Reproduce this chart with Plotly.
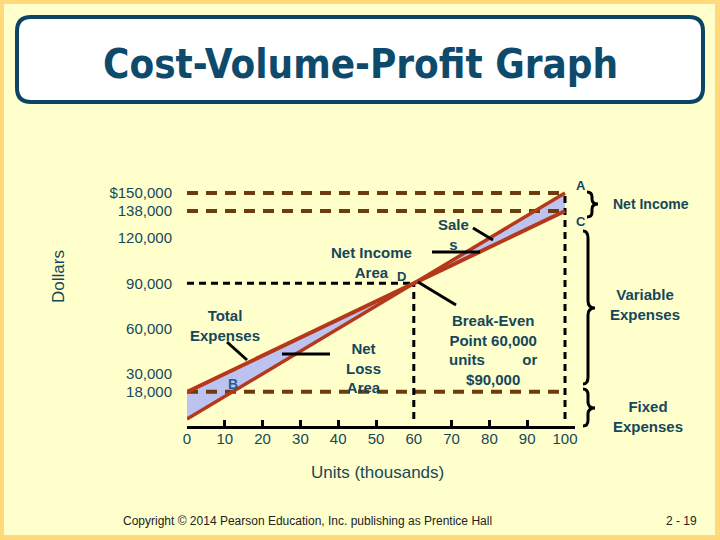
import plotly.graph_objects as go

# ---------------- data ----------------
units_k = [0, 60, 100]                      # thousands of units
sales = [0, 90000, 150000]                  # dollars
total_expenses = [18000, 90000, 138000]     # dollars
fixed_expenses = 18000
break_even_units = 60
break_even_dollars = 90000
max_units = 100
sales_at_max = 150000
expenses_at_max = 138000

x_tick_vals = [0, 10, 20, 30, 40, 50, 60, 70, 80, 90, 100]
x_tick_text = ["0", "10", "20", "30", "40", "50", "60", "70", "80", "90", "100"]
x_minor_ticks = [10, 20, 30, 40, 50, 70, 80, 90]
y_tick_vals = [18000, 30000, 60000, 90000, 120000, 138000, 150000]
y_tick_text = ["18,000", "30,000", "60,000", "90,000", "120,000", "138,000", "$150,000"]

# ---------------- layout geometry ----------------
W, H = 720, 540
PL, PR, PT, PB = 187, 575, 170, 426
PW, PH = PR - PL, PB - PT
Y0_PX, KPX = 419, 1.507          # pixel of $0 and px per $1000
y_range = [(Y0_PX - PB) / KPX * 1000, (Y0_PX - PT) / KPX * 1000]
x_range = [0, (PR - PL) / 3.78]


def px(v):
    return (v - PL) / PW


def py(v):
    return (PB - v) / PH


TEXT = "#15475B"
BROWN = "#6E3B0C"
RED = "#B5381A"
FILL = "#BCC3F0"
FONT = "Liberation Sans, Arial, sans-serif"

fig = go.Figure()

# shaded areas between lines
fig.add_trace(go.Scatter(x=units_k, y=total_expenses, mode="lines",
                         line=dict(width=0, color=FILL), hoverinfo="skip", showlegend=False))
fig.add_trace(go.Scatter(x=units_k, y=sales, mode="lines", fill="tonexty", fillcolor=FILL,
                         line=dict(width=0, color=FILL), hoverinfo="skip", showlegend=False))

# dashed reference lines
for yv in [sales_at_max, expenses_at_max, fixed_expenses]:
    fig.add_trace(go.Scatter(x=[0, max_units], y=[yv, yv], mode="lines",
                             line=dict(color=BROWN, width=4, dash="11px,8px"),
                             showlegend=False, hoverinfo="skip", cliponaxis=False))
fig.add_trace(go.Scatter(x=[0, break_even_units], y=[break_even_dollars, break_even_dollars],
                         mode="lines", line=dict(color="black", width=3, dash="7px,5px"),
                         showlegend=False, hoverinfo="skip", cliponaxis=False))
fig.add_trace(go.Scatter(x=[break_even_units, break_even_units], y=[0, break_even_dollars],
                         mode="lines", line=dict(color="black", width=3, dash="7px,5px"),
                         showlegend=False, hoverinfo="skip", cliponaxis=False))
fig.add_trace(go.Scatter(x=[max_units, max_units], y=[0, sales_at_max],
                         mode="lines", line=dict(color="black", width=3, dash="7px,5px"),
                         showlegend=False, hoverinfo="skip", cliponaxis=False))

# sales and total expense lines
fig.add_trace(go.Scatter(x=units_k, y=total_expenses, mode="lines",
                         line=dict(color=RED, width=4), showlegend=False, cliponaxis=False))
fig.add_trace(go.Scatter(x=units_k, y=sales, mode="lines",
                         line=dict(color=RED, width=3.5), showlegend=False, cliponaxis=False))

shapes = []
# slide background
shapes.append(dict(type="rect", xref="paper", yref="paper", layer="below",
                   x0=px(4), x1=px(715), y0=py(4), y1=py(535),
                   fillcolor="#FFFFCC", line=dict(width=0)))
# title box (rounded)
l, t, r, b, rad = 17, 17, 703, 102, 14
path = (f"M {px(l+rad)},{py(t)} L {px(r-rad)},{py(t)} Q {px(r)},{py(t)} {px(r)},{py(t+rad)} "
        f"L {px(r)},{py(b-rad)} Q {px(r)},{py(b)} {px(r-rad)},{py(b)} "
        f"L {px(l+rad)},{py(b)} Q {px(l)},{py(b)} {px(l)},{py(b-rad)} "
        f"L {px(l)},{py(t+rad)} Q {px(l)},{py(t)} {px(l+rad)},{py(t)} Z")
shapes.append(dict(type="path", xref="paper", yref="paper", path=path,
                   fillcolor="white", line=dict(color="#0B4566", width=4)))


def brace(x0, x1, x2, yt, ym, yb, r=6):
    return (f"M {px(x0)},{py(yt)} Q {px(x1)},{py(yt)} {px(x1)},{py(yt+r)} "
            f"L {px(x1)},{py(ym-r)} Q {px(x1)},{py(ym)} {px(x2)},{py(ym)} "
            f"Q {px(x1)},{py(ym)} {px(x1)},{py(ym+r)} "
            f"L {px(x1)},{py(yb-r)} Q {px(x1)},{py(yb)} {px(x0)},{py(yb)}")


for args in [(587, 592, 598, 192, 204, 217, 5), (583, 588, 595, 231, 308, 384, 7),
             (583, 588, 595, 389, 408, 426, 6)]:
    shapes.append(dict(type="path", xref="paper", yref="paper", path=brace(*args),
                       line=dict(color="black", width=3)))

# pointer lines
for (xa, ya, xb, yb_) in [(227, 342, 247, 360), (282, 354, 330, 354), (473, 228, 493, 240),
                          (432, 252, 480, 252), (418, 282, 456, 305)]:
    shapes.append(dict(type="line", xref="paper", yref="paper",
                       x0=px(xa), y0=py(ya), x1=px(xb), y1=py(yb_),
                       line=dict(color="black", width=3)))

annotations = []


def note(text, x, y, size=15, color=TEXT, bold=True, family=FONT, **kw):
    annotations.append(dict(text=f"<b>{text}</b>" if bold else text, x=px(x), y=py(y),
                            xref="paper", yref="paper", showarrow=False,
                            xanchor="center", yanchor="middle",
                            font=dict(size=size, color=color, family=family), **kw))


note("Cost-Volume-Profit Graph", 360, 64, size=40, color="#0E4A6C",
     family="DejaVu Sans Condensed, DejaVu Sans, sans-serif")
note("Total<br>Expenses", 225, 325)
note("B", 233, 384, size=14, color="#1F5C99")
note("Net<br>Loss<br>Area", 363, 368)
note("Net Income<br>Area", 371, 262)
note("D", 401, 276, size=13)
note("Sale<br>s", 453, 234)
note("A", 581, 185, size=13)
note("C", 581, 221, size=13)
note("Net Income", 651, 204, size=14)
note("Variable<br>Expenses", 645, 304.5)
note("Break-Even<br>Point 60,000<br>units" + "&nbsp;" * 9 + "or<br>$90,000", 493, 349.5)
note("Fixed<br>Expenses", 648, 416.5)
note("Units (thousands)", 377, 472, size=17, bold=False)
note("Dollars", 58, 277, size=17, bold=False, textangle=-90)
note("Copyright © 2014 Pearson Education, Inc. publishing as Prentice Hall", 307, 521,
     size=12, color="#222222", bold=False)
note("2 - 19", 681, 521, size=12, color="#222222", bold=False)

fig.update_layout(
    width=W, height=H,
    margin=dict(l=PL, r=W - PR, t=PT, b=H - PB, pad=0),
    paper_bgcolor="#FFD97A", plot_bgcolor="rgba(0,0,0,0)",
    shapes=shapes, annotations=annotations, showlegend=False,
    font=dict(family=FONT, color=TEXT),
    xaxis=dict(range=x_range, showgrid=False, zeroline=False, showline=True,
               linecolor="black", linewidth=3, tickmode="array", tickvals=x_tick_vals,
               ticktext=x_tick_text, ticks="", tickfont=dict(size=15, color=TEXT),
               ticklabelstandoff=-3,
               minor=dict(tickmode="array", tickvals=x_minor_ticks, ticks="inside",
                          ticklen=6, tickwidth=3, tickcolor="black", showgrid=False),
               fixedrange=True),
    yaxis=dict(range=y_range, showgrid=False, zeroline=False, showline=False,
               tickmode="array", tickvals=y_tick_vals, ticktext=y_tick_text, ticks="",
               tickfont=dict(size=15, color=TEXT), ticklabelstandoff=14, fixedrange=True),
)

fig.write_html("out.html", config={"displayModeBar": False},
               post_script="document.body.style.margin='0';")
